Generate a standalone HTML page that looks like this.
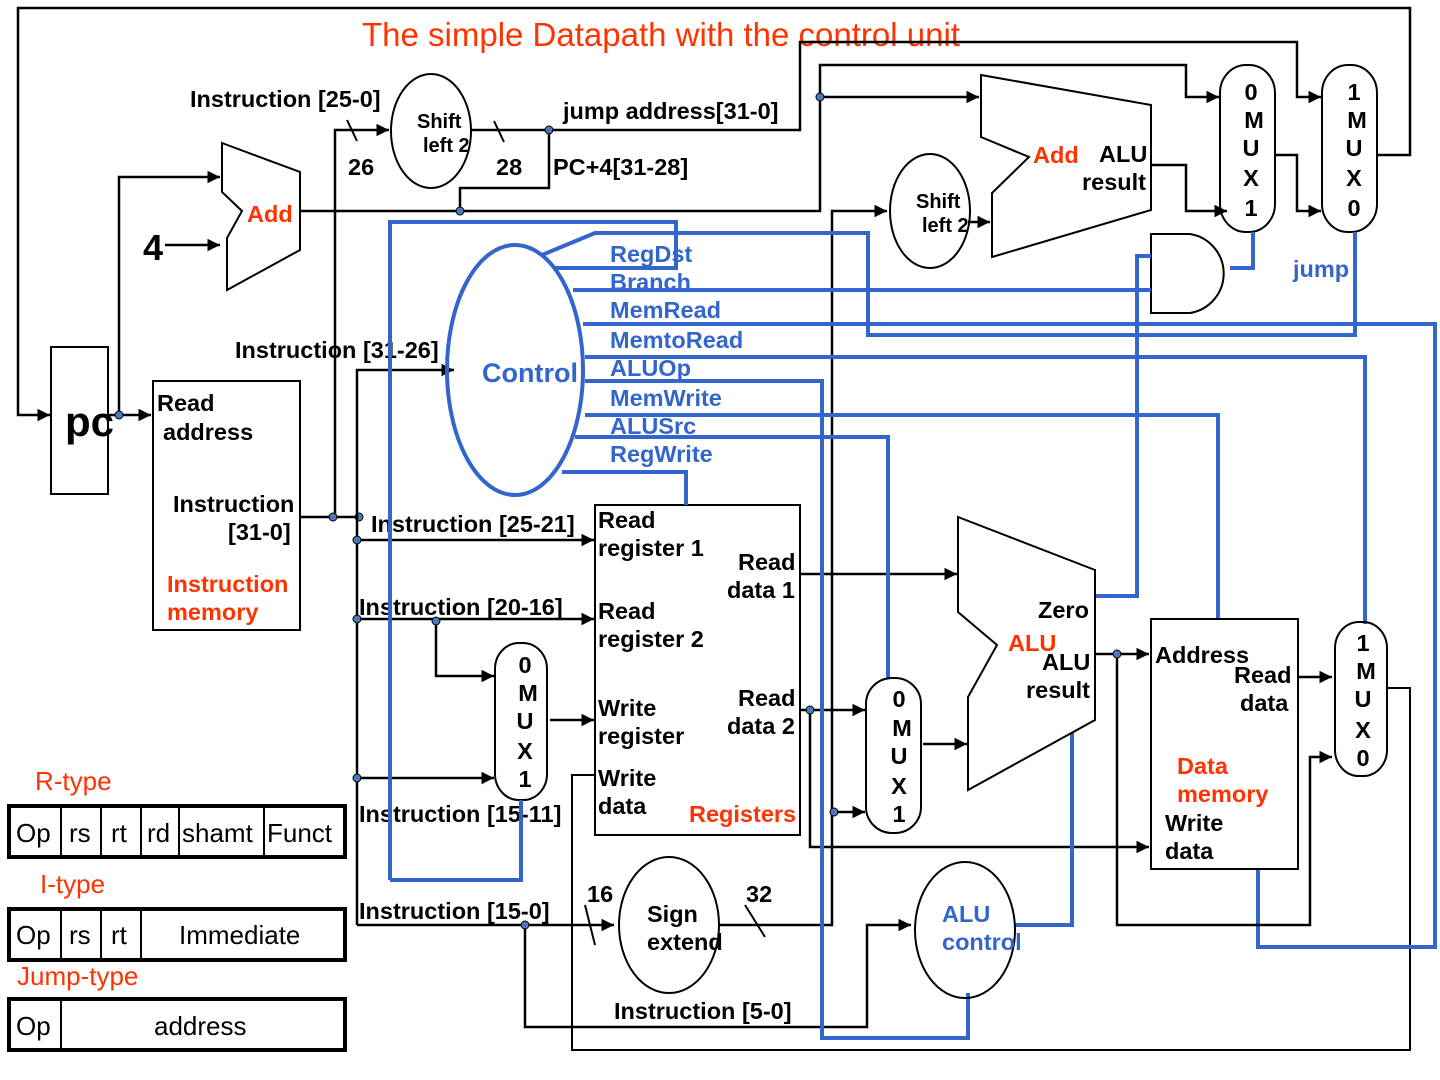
<!DOCTYPE html>
<html><head><meta charset="utf-8"><style>
html,body{margin:0;padding:0;background:#fff;}
svg{display:block;}
text{font-family:"Liberation Sans",Arial,sans-serif;font-weight:bold;font-size:23.5px;fill:#000;}
.r{fill:#ff3300;}
.b{fill:#3366cc;}
.k{fill:none;stroke:#000;stroke-width:2.5;}
.t{fill:none;stroke:#000;stroke-width:2;}
.bl{fill:none;stroke:#3366cc;stroke-width:4;}
.n{font-weight:normal;font-size:26px;}
</style></head><body>
<svg width="1440" height="1080" viewBox="0 0 1440 1080" xmlns="http://www.w3.org/2000/svg">
<defs>
<marker id="a" viewBox="0 0 10 10" refX="10" refY="5" markerWidth="5" markerHeight="5" orient="auto"><path d="M0,0L10,5L0,10z" fill="#000"/></marker>
</defs>
<text x="362" y="46" class="r" style="font-weight:normal;font-size:33px">The simple Datapath with the control unit</text>

<polyline class="k" points="1377,155 1410,155 1410,8 18,8 18,415 50,415" marker-end="url(#a)"/>
<rect x="51" y="347" width="57" height="147" class="t"/>
<text x="65" y="436" style="font-size:42px">pc</text>
<line x1="108" y1="415" x2="151" y2="415" class="k" marker-end="url(#a)"/>
<polyline class="k" points="119,415 119,177 220,177" marker-end="url(#a)"/>
<circle cx="119" cy="415" r="4" fill="#4a78b8" stroke="#000"/>
<polygon class="t" points="222,143 300,172 300,250 227,290 227,238 242,211 222,192"/>
<text x="247" y="222" class="r">Add</text>
<text x="143" y="260" style="font-size:36px">4</text>
<line x1="165" y1="245" x2="220" y2="245" class="k" marker-end="url(#a)"/>
<polyline class="k" points="300,211 820,211 820,65 1186,65 1186,97 1219,97" marker-end="url(#a)"/>
<line x1="820" y1="97" x2="979" y2="97" class="k" marker-end="url(#a)"/>
<circle cx="820" cy="97" r="4" fill="#4a78b8" stroke="#000"/>
<polyline class="k" points="460,211 460,188 549,188 549,130"/>
<circle cx="460" cy="211" r="4" fill="#4a78b8" stroke="#000"/>
<ellipse cx="431" cy="131" rx="40" ry="57" class="t"/>
<text x="417" y="128" style="font-size:20px">Shift</text>
<text x="423" y="152" style="font-size:20px">left 2</text>
<polyline class="k" points="335,517 335,130 389,130" marker-end="url(#a)"/>
<text x="190" y="107">Instruction [25-0]</text>
<line x1="347" y1="120" x2="357" y2="141" class="t"/>
<text x="348" y="175">26</text>
<polyline class="k" points="470,130 800,130 800,42 1297,42 1297,97 1321,97" marker-end="url(#a)"/>
<circle cx="549" cy="130" r="4" fill="#4a78b8" stroke="#000"/>
<line x1="494" y1="121" x2="504" y2="142" class="t"/>
<text x="496" y="175">28</text>
<text x="563" y="119">jump  address[31-0]</text>
<text x="553" y="175">PC+4[31-28]</text>
<rect x="153" y="381" width="147" height="249" class="t"/>
<text x="157" y="411">Read</text>
<text x="163" y="440">address</text>
<text x="173" y="512">Instruction</text>
<text x="228" y="540">[31-0]</text>
<text x="167" y="592" class="r">Instruction</text>
<text x="167" y="620" class="r">memory</text>
<line x1="300" y1="517" x2="358" y2="517" class="k"/>
<circle cx="333" cy="517" r="4" fill="#4a78b8" stroke="#000"/>
<circle cx="359" cy="517" r="4" fill="#4a78b8" stroke="#000"/>
<polyline class="k" points="357,925 357,370 454,370" marker-end="url(#a)"/>
<text x="235" y="358">Instruction [31-26]</text>
<line x1="357" y1="540" x2="594" y2="540" class="k" marker-end="url(#a)"/>
<line x1="357" y1="619" x2="594" y2="619" class="k" marker-end="url(#a)"/>
<polyline class="k" points="436,621 436,676 494,676" marker-end="url(#a)"/>
<line x1="357" y1="778" x2="494" y2="778" class="k" marker-end="url(#a)"/>
<polyline class="k" points="357,925 614,925" marker-end="url(#a)"/>
<polyline class="k" points="525,925 525,1027 867,1027 867,925 911,925" marker-end="url(#a)"/>
<circle cx="357" cy="540" r="4" fill="#4a78b8" stroke="#000"/>
<circle cx="357" cy="619" r="4" fill="#4a78b8" stroke="#000"/>
<circle cx="436" cy="621" r="4" fill="#4a78b8" stroke="#000"/>
<circle cx="357" cy="778" r="4" fill="#4a78b8" stroke="#000"/>
<circle cx="525" cy="925" r="4" fill="#4a78b8" stroke="#000"/>
<text x="371" y="532">Instruction [25-21]</text>
<text x="359" y="615">Instruction [20-16]</text>
<text x="359" y="822">Instruction [15-11]</text>
<text x="359" y="919">Instruction [15-0]</text>
<text x="614" y="1019">Instruction [5-0]</text>
<rect x="495" y="643" width="52" height="157" rx="24" ry="26" class="t"/>
<g text-anchor="middle"><text x="525" y="673">0</text><text x="528" y="701">M</text><text x="525" y="729">U</text><text x="525" y="759">X</text><text x="525" y="787">1</text></g>
<line x1="550" y1="720" x2="594" y2="720" class="k" marker-end="url(#a)"/>
<rect x="595" y="505" width="205" height="330" class="t"/>
<text x="598" y="528">Read</text><text x="598" y="556">register 1</text>
<text x="738" y="570">Read</text><text x="727" y="598">data 1</text>
<text x="598" y="619">Read</text><text x="598" y="647">register 2</text>
<text x="598" y="716">Write</text><text x="598" y="744">register</text>
<text x="738" y="706">Read</text><text x="727" y="734">data 2</text>
<text x="598" y="786">Write</text><text x="598" y="814">data</text>
<text x="689" y="822" class="r">Registers</text>
<polyline class="t" points="1387,688 1410,688 1410,1050 572,1050 572,775 595,775"/>
<line x1="800" y1="574" x2="957" y2="574" class="k" marker-end="url(#a)"/>
<line x1="800" y1="710" x2="865" y2="710" class="k" marker-end="url(#a)"/>
<polyline class="k" points="810,710 810,847 1149,847" marker-end="url(#a)"/>
<circle cx="810" cy="710" r="4" fill="#4a78b8" stroke="#000"/>
<ellipse cx="669" cy="925" rx="50" ry="68" class="t"/>
<text x="647" y="922">Sign</text><text x="647" y="950">extend</text>
<line x1="585" y1="905" x2="595" y2="945" class="t"/>
<text x="587" y="902">16</text>
<line x1="745" y1="905" x2="765" y2="937" class="t"/>
<text x="746" y="902">32</text>
<polyline class="k" points="720,925 832,925 832,211 887,211" marker-end="url(#a)"/>
<line x1="832" y1="812" x2="865" y2="812" class="k" marker-end="url(#a)"/>
<circle cx="834" cy="812" r="4" fill="#4a78b8" stroke="#000"/>
<ellipse cx="930" cy="211" rx="40" ry="57" class="t"/>
<text x="916" y="208" style="font-size:20px">Shift</text>
<text x="922" y="232" style="font-size:20px">left 2</text>
<line x1="968" y1="222" x2="990" y2="222" class="k" marker-end="url(#a)"/>
<polygon class="t" points="981,75 1151,105 1151,210 992,257 992,193 1029,157 981,137"/>
<text x="1033" y="163" class="r">Add</text>
<text x="1099" y="162">ALU</text>
<text x="1082" y="190">result</text>
<polyline class="k" points="1151,165 1186,165 1186,211 1227,211" marker-end="url(#a)"/>
<rect x="1220" y="65" width="55" height="167" rx="26" ry="28" class="t"/>
<g text-anchor="middle"><text x="1251" y="100">0</text><text x="1254" y="128">M</text><text x="1251" y="156">U</text><text x="1251" y="186">X</text><text x="1251" y="216">1</text></g>
<polyline class="k" points="1275,155 1297,155 1297,211 1321,211" marker-end="url(#a)"/>
<rect x="1322" y="65" width="55" height="167" rx="26" ry="28" class="t"/>
<g text-anchor="middle"><text x="1354" y="100">1</text><text x="1357" y="128">M</text><text x="1354" y="156">U</text><text x="1354" y="186">X</text><text x="1354" y="216">0</text></g>
<path d="M1151,234 L1190,234 A40,40 0 0 1 1190,313 L1151,313 Z" class="t"/>
<text x="1293" y="277" class="b">jump</text>
<ellipse cx="515" cy="370" rx="68" ry="125" class="bl"/>
<text x="482" y="382" class="b" style="font-size:27px">Control</text>
<polyline class="bl" points="390,880 390,222 676,222 676,268 553,268"/>
<polyline class="bl" points="390,880 521,880 521,800"/>
<polyline class="bl" points="542,255 595,233 868,233 868,335 1355,335 1355,232"/>
<polyline class="bl" points="573,290 1151,290"/>
<polyline class="bl" points="583,324 1435,324 1435,947 1258,947 1258,870"/>
<polyline class="bl" points="585,357 1365,357 1365,624"/>
<polyline class="bl" points="585,381 822,381 822,1038 968,1038 968,993"/>
<polyline class="bl" points="585,415 1218,415 1218,618"/>
<polyline class="bl" points="575,437 888,437 888,678"/>
<polyline class="bl" points="562,472 686,472 686,505"/>
<polyline class="bl" points="1095,596 1137,596 1137,256 1151,256"/>
<polyline class="bl" points="1230,268 1253,268 1253,232"/>
<polyline class="bl" points="1015,925 1072,925 1072,733"/>
<text x="610" y="262" class="b">RegDst</text>
<text x="610" y="290" class="b">Branch</text>
<text x="610" y="318" class="b">MemRead</text>
<text x="610" y="348" class="b">MemtoRead</text>
<text x="610" y="376" class="b">ALUOp</text>
<text x="610" y="406" class="b">MemWrite</text>
<text x="610" y="434" class="b">ALUSrc</text>
<text x="610" y="462" class="b">RegWrite</text>
<rect x="866" y="678" width="55" height="155" rx="26" ry="26" class="t"/>
<g text-anchor="middle"><text x="899" y="707">0</text><text x="902" y="736">M</text><text x="899" y="764">U</text><text x="899" y="794">X</text><text x="899" y="822">1</text></g>
<line x1="923" y1="744" x2="967" y2="744" class="k" marker-end="url(#a)"/>
<polygon class="t" points="958,517 1095,570 1095,720 968,790 968,697 997,645 958,612"/>
<text x="1038" y="618">Zero</text>
<text x="1008" y="651" class="r">ALU</text>
<text x="1042" y="670">ALU</text>
<text x="1026" y="698">result</text>
<line x1="1095" y1="654" x2="1149" y2="654" class="k" marker-end="url(#a)"/>
<polyline class="k" points="1117,654 1117,925 1310,925 1310,757 1332,757" marker-end="url(#a)"/>
<circle cx="1117" cy="654" r="4" fill="#4a78b8" stroke="#000"/>
<rect x="1151" y="619" width="147" height="250" class="t"/>
<text x="1155" y="663">Address</text>
<text x="1234" y="683">Read</text><text x="1240" y="711">data</text>
<text x="1177" y="774" class="r">Data</text><text x="1177" y="802" class="r">memory</text>
<text x="1165" y="831">Write</text><text x="1165" y="859">data</text>
<line x1="1298" y1="677" x2="1332" y2="677" class="k" marker-end="url(#a)"/>
<rect x="1335" y="622" width="52" height="154" rx="24" ry="26" class="t"/>
<g text-anchor="middle"><text x="1363" y="651">1</text><text x="1366" y="679">M</text><text x="1363" y="707">U</text><text x="1363" y="738">X</text><text x="1363" y="766">0</text></g>
<ellipse cx="965" cy="930" rx="50" ry="68" class="t"/>
<text x="942" y="922" class="b">ALU</text><text x="942" y="950" class="b">control</text>
<text x="35" y="790" class="r n" style="font-size:26px">R-type</text>
<rect x="9" y="806" width="336" height="51" fill="none" stroke="#000" stroke-width="4"/>
<g stroke="#000" stroke-width="2"><line x1="61" y1="806" x2="61" y2="857"/><line x1="101" y1="806" x2="101" y2="857"/><line x1="141" y1="806" x2="141" y2="857"/><line x1="179" y1="806" x2="179" y2="857"/><line x1="264" y1="806" x2="264" y2="857"/></g>
<text x="16" y="842" class="n">Op</text><text x="69" y="842" class="n">rs</text><text x="111" y="842" class="n">rt</text><text x="147" y="842" class="n">rd</text><text x="182" y="842" class="n">shamt</text><text x="267" y="842" class="n">Funct</text>
<text x="40" y="893" class="r n" style="font-size:26px">I-type</text>
<rect x="9" y="909" width="336" height="51" fill="none" stroke="#000" stroke-width="4"/>
<g stroke="#000" stroke-width="2"><line x1="61" y1="909" x2="61" y2="960"/><line x1="101" y1="909" x2="101" y2="960"/><line x1="141" y1="909" x2="141" y2="960"/></g>
<text x="16" y="944" class="n">Op</text><text x="69" y="944" class="n">rs</text><text x="111" y="944" class="n">rt</text><text x="179" y="944" class="n">Immediate</text>
<text x="17" y="985" class="r n" style="font-size:26px">Jump-type</text>
<rect x="9" y="999" width="336" height="51" fill="none" stroke="#000" stroke-width="4"/>
<line x1="61" y1="999" x2="61" y2="1050" stroke="#000" stroke-width="2"/>
<text x="16" y="1035" class="n">Op</text><text x="154" y="1035" class="n">address</text>
</svg>
</body></html>
